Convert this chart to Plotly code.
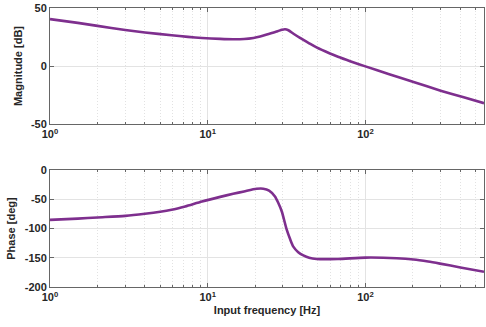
import plotly.graph_objects as go
from plotly.subplots import make_subplots

freq_mag = [1, 1.5, 2, 3, 4, 5.9, 7.5, 9.2, 12, 14.5, 17, 19.5, 21.5, 23.7, 25.5, 27.8, 29.5, 30.9, 32.5,
            35, 38.5, 44, 49, 59.6, 67, 80, 100, 140, 202, 300, 420, 565]
mag_db = [40.4, 37.2, 34.6, 31.1, 28.9, 26.5, 25.1, 24.2, 23.4, 23.1, 23.3, 24.2, 25.4, 27.1, 28.5, 30.0, 31.2, 31.7, 30.8,
          27.8, 24.2, 19.6, 16.0, 10.8, 8.0, 4.2, -0.3, -6.8, -13.8, -21.2, -27.0, -32.0]

freq_ph = [1, 1.5, 2, 3, 4, 5, 5.9, 7.2, 9.2, 12, 14.5, 17, 20.4, 22.5, 24.5, 26.7, 28, 29.5, 31.7, 33.3, 34.9,
           37.5, 40.4, 44, 49, 67, 100, 158, 202, 250, 297, 400, 565]
phase_deg = [-85.2, -83.0, -81, -78.3, -74.8, -71.4, -68, -62.2, -53.7, -45.8, -40.6, -36.5, -32, -31.8, -35, -45, -56,
             -70.8, -102, -118, -131, -140.5, -146, -150, -152, -152, -149.7, -150.8, -153, -156.5, -160, -166.5, -174]

x_major = [1, 10, 100]
x_major_text = ["<b>10<sup>0</sup></b>", "<b>10<sup>1</sup></b>", "<b>10<sup>2</sup></b>"]
x_minor = [2, 3, 4, 5, 6, 7, 8, 9, 20, 30, 40, 50, 60, 70, 80, 90, 200, 300, 400, 500]

mag_ticks = [-50, 0, 50]
ph_ticks = [-200, -150, -100, -50, 0]

line_color = "#7E2F8E"
axis_color = "#666666"
grid_color = "#E3E3E3"
fam = "Liberation Sans, Arial, sans-serif"
font = dict(family=fam, size=11, color="#262626")

fig = make_subplots(rows=2, cols=1, vertical_spacing=0.165)

fig.add_trace(go.Scatter(x=freq_mag, y=mag_db, mode="lines",
                         line=dict(color=line_color, width=2.6, shape="spline", smoothing=0.7),
                         showlegend=False), row=1, col=1)
fig.add_trace(go.Scatter(x=freq_ph, y=phase_deg, mode="lines",
                         line=dict(color=line_color, width=2.6, shape="spline", smoothing=0.7),
                         showlegend=False), row=2, col=1)

xcommon = dict(type="log", range=[0, 2.752], tickvals=x_major, ticktext=x_major_text,
               showline=True, linecolor=axis_color, linewidth=1, mirror="ticks",
               ticks="inside", ticklen=4, tickcolor=axis_color,
               showgrid=True, gridcolor=grid_color, gridwidth=1, zeroline=False,
               tickfont=dict(family=fam, size=11, color="#262626"),
               minor=dict(tickvals=x_minor, ticks="inside", ticklen=2, tickcolor=axis_color,
                          showgrid=True, gridcolor="#E2E2E2", griddash="1px,2px", gridwidth=1))

ycommon = dict(showline=True, linecolor=axis_color, linewidth=1, mirror="ticks",
               ticks="inside", ticklen=4, tickcolor=axis_color,
               showgrid=True, gridcolor=grid_color, gridwidth=1, zeroline=False,
               tickfont=dict(family=fam, size=11, color="#262626"))

fig.update_xaxes(**xcommon, row=1, col=1)
fig.update_xaxes(**xcommon, row=2, col=1)
fig.update_xaxes(title=dict(text="<b>Input frequency [Hz]</b>", standoff=4,
                            font=dict(family=fam, size=11, color="#262626")), row=2, col=1)

fig.update_yaxes(**ycommon, range=[-50, 50], tickvals=mag_ticks,
                 ticktext=["<b>%d</b>" % v for v in mag_ticks],
                 title=dict(text="<b>Magnitude [dB]</b>", standoff=6,
                            font=dict(family=fam, size=11, color="#262626")), row=1, col=1)
fig.update_yaxes(**ycommon, range=[-200, 0], tickvals=ph_ticks,
                 ticktext=["<b>%d</b>" % v for v in ph_ticks],
                 title=dict(text="<b>Phase [deg]</b>", standoff=6,
                            font=dict(family=fam, size=11, color="#262626")), row=2, col=1)

fig.update_layout(width=486, height=327, margin=dict(l=50, r=2, t=8, b=40),
                  plot_bgcolor="white", paper_bgcolor="white", font=font)
fig.update_layout(xaxis=dict(domain=[0, 1]), yaxis=dict(domain=[0.584, 1.0]),
                  xaxis2=dict(domain=[0, 1]), yaxis2=dict(domain=[0.0, 0.419]))

fig.write_html("out.html")
